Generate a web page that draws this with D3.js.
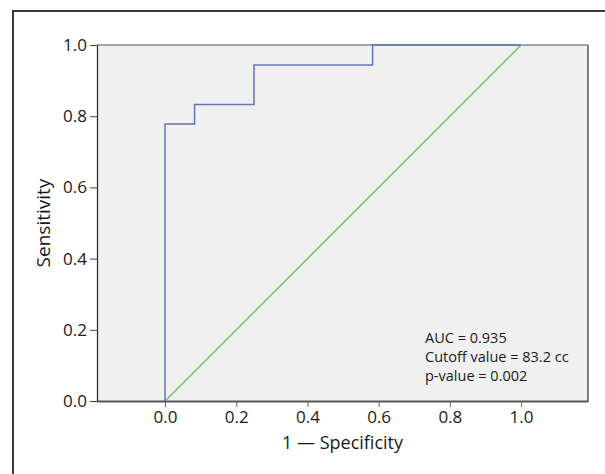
<!DOCTYPE html>
<html>
<head>
<meta charset="utf-8">
<script src="https://cdn.jsdelivr.net/npm/d3@7"></script>
<style>
  body { margin: 0; background: #fff; }
  svg { display: block; font-family: "Open Sans", sans-serif; }
</style>
</head>
<body>
<div id="chart"></div>
<script>
// ROC curve points (1 - specificity, sensitivity), step shaped
var fpr = [0, 0, 0.083, 0.083, 0.25, 0.25, 0.583, 0.583, 1.0];
var tpr = [0, 0.778, 0.778, 0.833, 0.833, 0.944, 0.944, 1.0, 1.0];
// reference line
var refX = [0, 1];
var refY = [0, 1];
var xTicks = [0, 0.2, 0.4, 0.6, 0.8, 1.0];
var yTicks = [0, 0.2, 0.4, 0.6, 0.8, 1.0];
var notes = ["AUC = 0.935", "Cutoff value = 83.2 cc", "p-value = 0.002"];

var svgWidth = 605;
var svgHeight = 474;

var margin = { top: 45, right: 17, bottom: 73, left: 97 };
var width = svgWidth - margin.left - margin.right;
var height = svgHeight - margin.top - margin.bottom;

var svg = d3.select("#chart")
  .append("svg")
  .attr("width", svgWidth)
  .attr("height", svgHeight);

// outer frame
svg.append("rect")
  .attr("x", 13).attr("y", 11)
  .attr("width", 620).attr("height", 500)
  .attr("fill", "none")
  .attr("stroke", "#3a3a3a")
  .attr("stroke-width", 2);

var g = svg.append("g")
  .attr("transform", `translate(${margin.left}, ${margin.top})`);

var x = d3.scaleLinear().domain([-0.191, 1.188]).range([0, width]);
var y = d3.scaleLinear().domain([0, 1]).range([height, 0]);

g.append("rect")
  .attr("width", width).attr("height", height)
  .attr("fill", "#f0f0f0");

// top and right borders of the plot panel
g.append("line")
  .attr("x1", 0).attr("x2", width).attr("y1", 0).attr("y2", 0)
  .attr("stroke", "#8a8a8a").attr("stroke-width", 1.5);
g.append("line")
  .attr("x1", width).attr("x2", width).attr("y1", 0).attr("y2", height)
  .attr("stroke", "#555").attr("stroke-width", 1.5);

// diagonal
var line = d3.line().x(d => x(d[0])).y(d => y(d[1]));
g.append("path")
  .datum(d3.zip(refX, refY))
  .attr("d", line)
  .attr("fill", "none")
  .attr("stroke", "#6cbf6c")
  .attr("stroke-width", 1.5);

// ROC curve
g.append("path")
  .datum(d3.zip(fpr, tpr))
  .attr("d", line)
  .attr("fill", "none")
  .attr("stroke", "#6474b4")
  .attr("stroke-width", 1.5);

var xAxis = g.append("g")
  .attr("transform", "translate(0," + height + ")")
  .call(d3.axisBottom(x).tickValues(xTicks).tickFormat(d3.format(".1f"))
    .tickSize(6).tickSizeOuter(0).tickPadding(4));
xAxis.select(".domain").attr("stroke", "#555").attr("stroke-width", 2);
xAxis.selectAll(".tick line").attr("stroke", "#666");
xAxis.selectAll("text").attr("font-size", "17px").attr("fill", "#1a1a1a")
  .attr("font-family", "Open Sans");

var yAxis = g.append("g")
  .call(d3.axisLeft(y).tickValues(yTicks).tickFormat(d3.format(".1f"))
    .tickSize(7).tickSizeOuter(0).tickPadding(3));
yAxis.select(".domain").attr("stroke", "#222").attr("stroke-width", 1.2);
yAxis.selectAll(".tick line").attr("stroke", "#444");
yAxis.selectAll("text").attr("font-size", "17px").attr("fill", "#1a1a1a")
  .attr("font-family", "Open Sans");

// axis titles
g.append("text")
  .attr("x", width / 2)
  .attr("y", height + 48)
  .attr("text-anchor", "middle")
  .attr("font-size", "18px")
  .attr("fill", "#1a1a1a")
  .text("1 \u2014 Specificity");

g.append("text")
  .attr("transform", "rotate(-90)")
  .attr("x", -height / 2)
  .attr("y", -47)
  .attr("text-anchor", "middle")
  .attr("font-size", "19px")
  .attr("fill", "#1a1a1a")
  .text("Sensitivity");

// annotation
g.selectAll(".note")
  .data(notes)
  .enter()
  .append("text")
  .attr("class", "note")
  .attr("x", 328)
  .attr("y", (d, i) => 298 + i * 19)
  .attr("font-size", "14.5px")
  .attr("fill", "#1a1a1a")
  .text(d => d);
</script>
</body>
</html>
